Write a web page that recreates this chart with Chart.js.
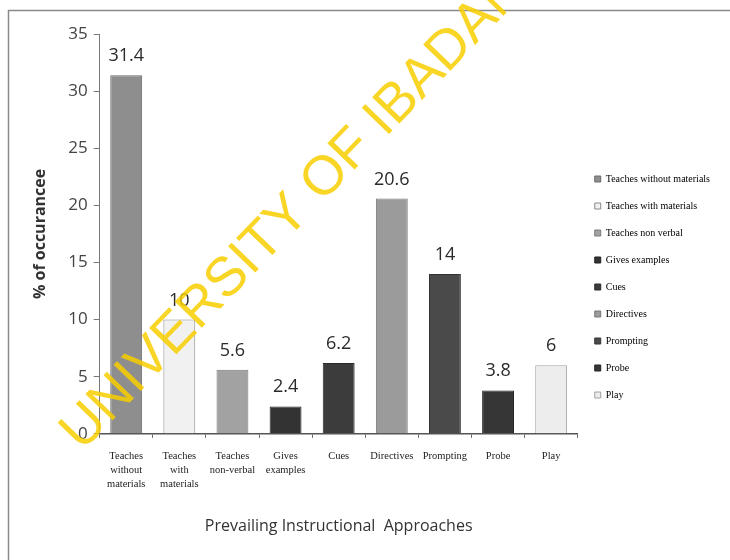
<!DOCTYPE html>
<html>
<head>
<meta charset="utf-8">
<script src="https://cdn.jsdelivr.net/npm/chart.js@4.4.1/dist/chart.umd.min.js"></script>
<style>
  body { margin: 0; background: #fff; }
  #wrap { width: 730px; height: 560px; }
</style>
</head>
<body>
<div id="wrap"><canvas id="myChart" width="730" height="560"></canvas></div>
<script>
// chart data
var categories = [
  ["Teaches", "without", "materials"],
  ["Teaches", "with", "materials"],
  ["Teaches", "non-verbal"],
  ["Gives", "examples"],
  "Cues",
  "Directives",
  "Prompting",
  "Probe",
  "Play"
];
var legendNames = [
  "Teaches without materials",
  "Teaches with materials",
  "Teaches non verbal",
  "Gives examples",
  "Cues",
  "Directives",
  "Prompting",
  "Probe",
  "Play"
];
var occurrence = [31.4, 10, 5.6, 2.4, 6.2, 20.6, 14, 3.8, 6];

var barColors = ["#8e8e8e", "#f1f1f1", "#a2a2a2", "#333333", "#3c3c3c", "#9b9b9b", "#4a4a4a", "#363636", "#ededed"];
var borderColors = ["#6a6a6a", "#8a8a8a", "#7a7a7a", "#222222", "#2a2a2a", "#777777", "#333333", "#222222", "#a0a0a0"];

// frame, value labels and the watermark
var extras = {
  id: "extras",
  beforeDraw: function(chart) {
    var ctx = chart.ctx;
    ctx.save();
    ctx.strokeStyle = "#8a8a8a";
    ctx.lineWidth = 1.5;
    ctx.strokeRect(8.5, 10.5, 740, 560);
    ctx.restore();
  },
  afterDatasetsDraw: function(chart) {
    var ctx = chart.ctx;
    var meta = chart.getDatasetMeta(0);
    ctx.save();
    ctx.font = "18px 'Open Sans', sans-serif";
    ctx.fillStyle = "#2a2a2a";
    ctx.textAlign = "center";
    ctx.textBaseline = "alphabetic";
    meta.data.forEach(function(bar, i) {
      ctx.fillText(String(occurrence[i]), bar.x, bar.y - 14);
    });
    ctx.restore();
  },
  afterDraw: function(chart) {
    var ctx = chart.ctx;
    ctx.save();
    ctx.translate(82, 452);
    ctx.rotate(-46 * Math.PI / 180);
    ctx.font = "55px 'Liberation Sans', Arial, sans-serif";
    ctx.fillStyle = "rgba(248, 206, 0, 0.85)";
    ctx.textBaseline = "alphabetic";
    ctx.fillText("UNIVERSITY OF IBADAN", 0, 0);
    ctx.restore();
  }
};

new Chart("myChart", {
  type: "bar",
  data: {
    labels: categories,
    datasets: [{
      data: occurrence,
      backgroundColor: barColors,
      borderColor: borderColors,
      borderWidth: 1,
      barPercentage: 0.6,
      categoryPercentage: 1
    }]
  },
  options: {
    responsive: false,
    animation: false,
    layout: { padding: { top: 34, right: 10, left: 27, bottom: 20 } },
    plugins: {
      tooltip: { enabled: false },
      legend: {
        position: "right",
        align: "center",
        labels: {
          boxWidth: 6,
          boxHeight: 6,
          padding: 17,
          color: "#333",
          font: { family: "'Liberation Serif', serif", size: 10 },
          generateLabels: function(chart) {
            return legendNames.map(function(name, i) {
              return {
                text: name,
                fillStyle: barColors[i],
                strokeStyle: borderColors[i],
                lineWidth: 1,
                index: i
              };
            });
          }
        }
      }
    },
    scales: {
      y: {
        min: 0,
        max: 35,
        ticks: {
          stepSize: 5,
          color: "#444",
          padding: 6,
          font: { family: "'Open Sans', sans-serif", size: 17 }
        },
        grid: { drawOnChartArea: false, tickLength: 6, color: "#777" },
        border: { color: "#777", width: 1 },
        title: {
          display: true,
          text: "% of occurancee",
          color: "#333",
          padding: { bottom: 12 },
          font: { family: "'Open Sans', sans-serif", size: 16, weight: "bold" }
        }
      },
      x: {
        ticks: {
          color: "#222",
          maxRotation: 0,
          autoSkip: false,
          padding: 12,
          font: { family: "'Liberation Serif', serif", size: 10.5, lineHeight: 1.3 }
        },
        grid: { drawOnChartArea: false, tickLength: 4, color: "#666" },
        border: { color: "#555", width: 1.5 },
        title: {
          display: true,
          text: "Prevailing Instructional  Approaches",
          color: "#333",
          padding: { top: 14 },
          font: { family: "'Open Sans', sans-serif", size: 16 }
        }
      }
    }
  },
  plugins: [extras]
});
</script>
</body>
</html>
